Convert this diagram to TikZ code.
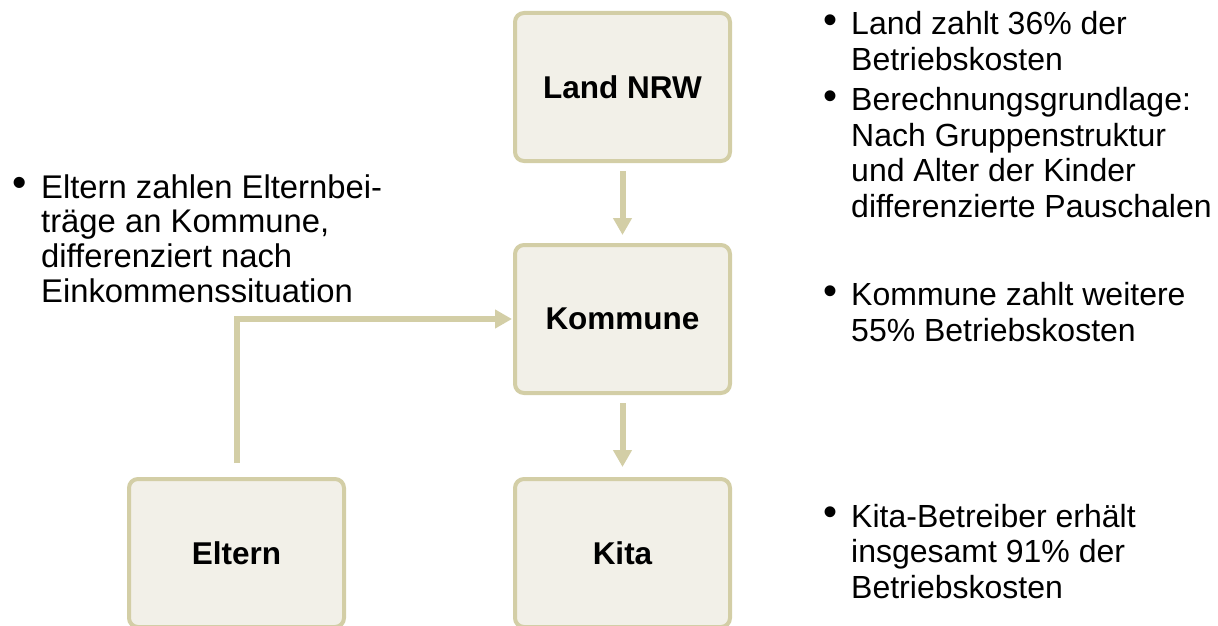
\documentclass[tikz,border=0pt]{standalone}
\usepackage{fontspec}
\setmainfont{Liberation Sans}[Ligatures=CommonOff]
\usetikzlibrary{arrows.meta}
\definecolor{boxline}{RGB}{211,206,166}
\definecolor{boxfill}{RGB}{242,240,232}
\newcommand{\bul}{\llap{\raisebox{1.5pt}{\scalebox{1.25}{\textbullet}}\hspace{14pt}}}

\begin{document}
\begin{tikzpicture}[
x=1pt, y=-1pt,
boxnode/.style={
rectangle,
rounded corners=9pt,
draw=boxline,
fill=boxfill,
line width=4pt,
minimum width=215pt,
minimum height=148pt,
inner sep=0 pt,
font=\fontsize{31.5}{36}\selectfont\bfseries,
},
flowarrow/.style={
draw=boxline,
line width=6pt,
-{Triangle[width=18pt, length=17pt]},
},
% base = baseline of the last line
bullettext/.style={
anchor=base west,
align=left,
inner sep=0 pt,
font=\fontsize{32}{35.5}\selectfont,
}
]
\useasboundingbox (0,0) rectangle (1218,626);

% boxes
\node [boxnode] at (622.5,87) (land) {Land NRW};
\node [boxnode] at (622.5,319) (kommune) {Kommune};
\node [boxnode] at (622.5,553) (kita) {Kita};
\node [boxnode] at (236.5,553) (eltern) {Eltern};

% money flows
\draw [flowarrow, shorten <=8pt, shorten >=8pt] (land) -- (kommune);
\draw [flowarrow, shorten <=8pt, shorten >=10pt] (kommune) -- (kita);
\draw [flowarrow, shorten <=14pt, shorten >=1pt] (eltern.north) |- (kommune.west);

% bullet texts
\node [bullettext, font=\fontsize{32.8}{34.8}\selectfont] at (41,302.5) (elterntxt)
{\bul Eltern zahlen Elternbei-\\träge an Kommune,\\differenziert nach\\Einkommenssituation};
\node [bullettext] at (851,217) (landtxt)
{\bul Land zahlt 36\% der\\Betriebskosten\\[5pt]\bul Berechnungsgrundlage:\\Nach Gruppenstruktur\\und Alter der Kinder\\differenzierte Pauschalen};
\node [bullettext] at (851,341) (kommunetxt)
{\bul Kommune zahlt weitere\\55\% Betriebskosten};
\node [bullettext] at (851,598) (kitatxt)
{\bul Kita-Betreiber erhält\\insgesamt 91\% der\\Betriebskosten};

\end{tikzpicture}
\end{document}
